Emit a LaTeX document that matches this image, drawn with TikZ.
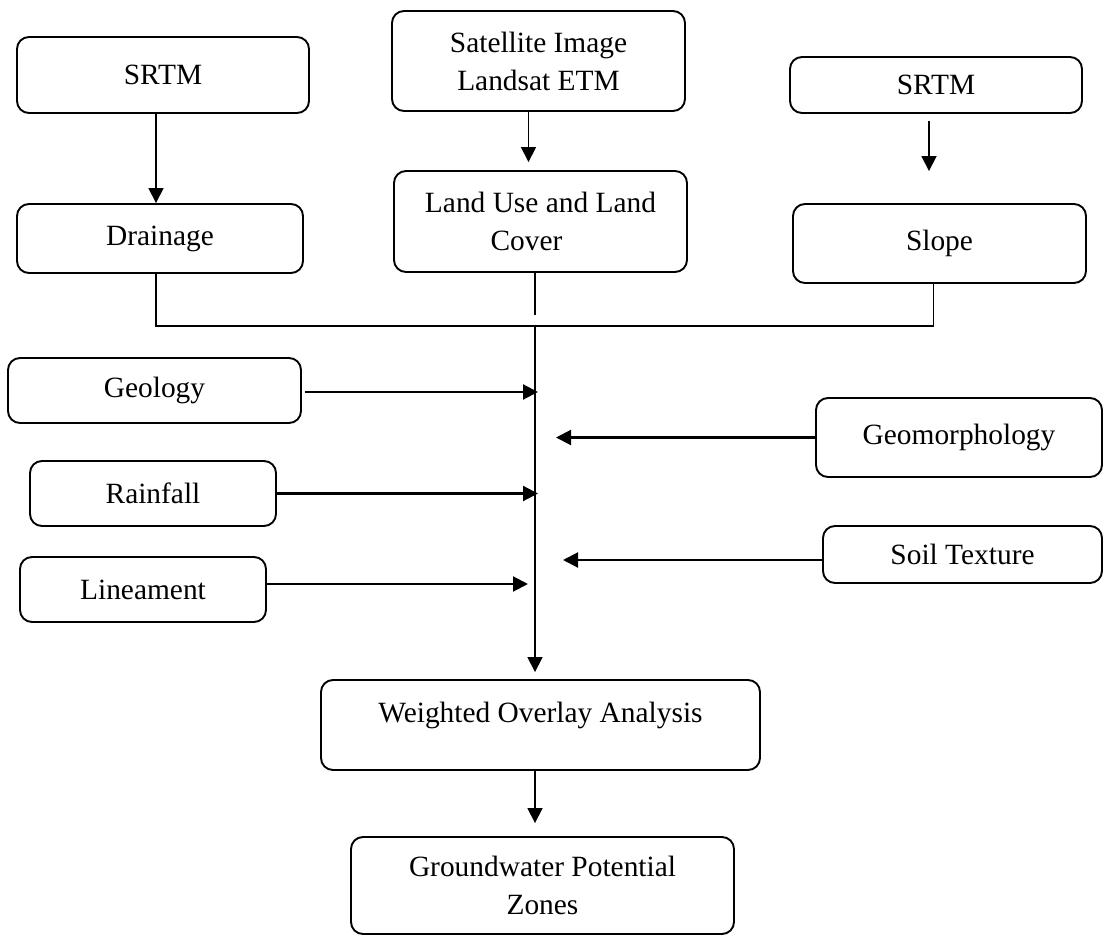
\documentclass[tikz,border=0pt]{standalone}
\usepackage{fontspec}
\setmainfont{Liberation Serif}
\usepackage{tikz}
\usetikzlibrary{arrows.meta, positioning, calc}

\begin{document}
\begin{tikzpicture}[
  x=0.5pt, y=-0.5pt,
  box/.style={draw, rounded corners=6pt, line width=0.95pt, align=center,
              font=\fontsize{14.7}{19}\selectfont, inner sep=2pt},
  link/.style={line width=0.85pt},
  arr/.style={link, -{Triangle[length=7.5pt, width=7.5pt]}},
  feed/.style={arr, line width=1.05pt},
]
\useasboundingbox (0,0) rectangle (1103,936);

% --- Top row: sources ---
\node[box, minimum width=146pt, minimum height=38pt] (srtmA) at (163,75) {SRTM};
\node[box, minimum width=146.5pt, minimum height=50pt] (sat) at (538.5,61)
  {Satellite Image\\Landsat ETM};
\node[box, minimum width=146pt, minimum height=28pt] (srtmB) at (936,85) {SRTM};

% --- Second row: derived layers ---
\node[box, minimum width=143pt, minimum height=34.5pt] (drain) at (160,238.5) {Drainage};
\node[box, minimum width=146.5pt, minimum height=50.5pt] (luc) at (540.5,221.5)
  {Land Use and Land\\Cover\hspace*{14pt}};
\node[box, minimum width=146.5pt, minimum height=39.5pt] (slope) at (939.5,243.5) {Slope};

% --- Side layers ---
\node[box, minimum width=146.5pt, minimum height=32.5pt] (geol) at (154.5,390.5) {Geology};
\node[box, minimum width=123pt, minimum height=32.5pt] (rain) at (153,493.5) {Rainfall};
\node[box, minimum width=123pt, minimum height=32.5pt] (linea) at (143,589.5) {Lineament};
\node[box, minimum width=143pt, minimum height=39.5pt] (geomorph) at (959,437.5) {Geomorphology};
\node[box, minimum width=139.5pt, minimum height=28.5pt] (soil) at (962.5,554.5) {Soil Texture};

% --- Output ---
\node[box, minimum width=219.5pt, minimum height=45pt, text height=10pt, text depth=13pt]
  (wov) at (540.5,725) {Weighted Overlay Analysis};
\node[box, minimum width=191.5pt, minimum height=48.5pt] (gwpz) at (542.5,885.5)
  {Groundwater Potential\\Zones};

% --- Helper points ---
\coordinate (bus) at (535,326);
\coordinate (gap) at (535,315);
\coordinate (drainfoot) at ([xshift=-2pt]drain.south);
\coordinate (slopefoot) at ([xshift=-3pt]slope.south);
\coordinate (satfoot) at ([xshift=-5pt]sat.south);
\coordinate (srtmfoot) at ([xshift=-3.5pt]srtmB.south);
\coordinate (geolport) at ([yshift=-0.75pt]geol.east);
\coordinate (lineaport) at ([yshift=2.75pt]linea.east);
\coordinate (soilport) at ([yshift=-2.75pt]soil.west);

% --- Top arrows ---
\draw[arr] (srtmA.south -| drainfoot) -- (drainfoot |- drain.north);
\draw[arr, shorten >=4pt] (satfoot) -- (satfoot |- luc.north);
\draw[arr, shorten <=3.5pt, shorten >=16pt] (srtmfoot) -- (srtmfoot |- slope.north);

% --- Collector ---
\draw[link] (drainfoot) |- (bus) -| (slopefoot);
\draw[link] (luc.south -| gap) -- (gap);
\draw[arr, shorten >=3.5pt] (bus) -- (bus |- wov.north);

% --- Inputs to the main line ---
\draw[feed, shorten <=1.5pt, shorten >=-1.5pt] (geolport) -- (geolport -| bus);
\draw[feed, shorten >=-1.5pt] (rain.east) -- (rain.east -| bus);
\draw[feed, shorten >=3.5pt] (lineaport) -- (lineaport -| bus);
\draw[feed, shorten >=10.5pt] (geomorph.west) -- (geomorph.west -| bus);
\draw[feed, shorten >=14pt] (soilport) -- (soilport -| bus);

% --- Result ---
\draw[arr, shorten >=6.5pt] (wov.south -| bus) -- (bus |- gwpz.north);

\end{tikzpicture}
\end{document}
